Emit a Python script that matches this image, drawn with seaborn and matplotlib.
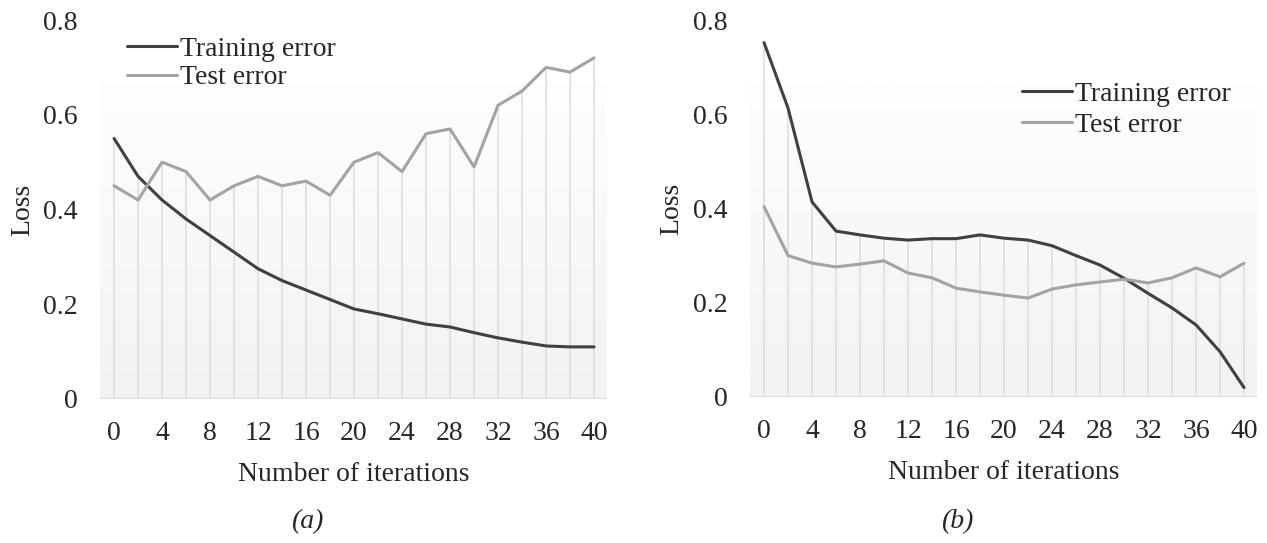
import numpy as np
import pandas as pd
import matplotlib
matplotlib.use("Agg")
import matplotlib.pyplot as plt
from matplotlib import font_manager
import seaborn as sns
from matplotlib.colors import LinearSegmentedColormap

# ---- data ----
iterations = list(range(0, 41, 2))
train_a = [0.55, 0.47, 0.42, 0.38, 0.345, 0.31, 0.275, 0.25, 0.23, 0.21, 0.19,
           0.18, 0.169, 0.158, 0.152, 0.14, 0.129, 0.12, 0.112, 0.11, 0.11]
test_a = [0.45, 0.42, 0.50, 0.48, 0.42, 0.45, 0.47, 0.45, 0.46, 0.43, 0.50,
          0.52, 0.48, 0.56, 0.57, 0.49, 0.62, 0.65, 0.70, 0.69, 0.72]
train_b = [0.752, 0.613, 0.414, 0.352, 0.344, 0.337, 0.333, 0.336, 0.336, 0.344, 0.337,
           0.333, 0.321, 0.30, 0.28, 0.252, 0.22, 0.189, 0.153, 0.096, 0.02]
test_b = [0.404, 0.30, 0.284, 0.276, 0.282, 0.289, 0.263, 0.253, 0.231, 0.223, 0.216,
          0.21, 0.229, 0.238, 0.244, 0.25, 0.242, 0.253, 0.274, 0.255, 0.284]
series_names = ["Training error", "Test error"]
y_ticks = [0, 0.2, 0.4, 0.6, 0.8]
y_ticklabels = ["0", "0.2", "0.4", "0.6", "0.8"]
x_ticks = list(range(0, 41, 4))
panel_labels = ["(a)", "(b)"]

# locate a Times-like serif font
serif_name = None
for f in font_manager.findSystemFonts():
    base = f.split("/")[-1].lower()
    if base.startswith("liberationserif"):
        try:
            font_manager.fontManager.addfont(f)
        except Exception:
            pass
        if "regular" in base:
            serif_name = font_manager.FontProperties(fname=f).get_name()
if serif_name is None:
    serif_name = "DejaVu Serif"

sns.set_style("white")
plt.rcParams["font.family"] = [serif_name, "DejaVu Serif"]

FS = 20
fig = plt.figure(figsize=(12.67, 5.43), dpi=100)
W, H = 1267, 543

def px_axes(left, right, zero_y, top_y):
    return fig.add_axes([left / W, 1 - zero_y / H, (right - left) / W, (zero_y - top_y) / H])

ax_a = px_axes(100, 607, 399, 20)
ax_b = px_axes(750, 1257, 397, 20)

palette = {"Training error": "#404040", "Test error": "#a3a3a3"}
grad_cmap = LinearSegmentedColormap.from_list("g", ["#f2f2f2", "#fefefe"])

configs = [
    (ax_a, train_a, test_a, (0.053, 0.956), 0.1, -0.152, panel_labels[0], 307),
    (ax_b, train_b, test_b, (0.536, 0.838), 0.2, -0.154, panel_labels[1], 957),
]

for ax, tr, te, leg_anchor, lsp, ylx, plabel, plx in configs:
    xmin, xmax = -1.17, 41.08
    ax.set_xlim(xmin, xmax)
    ax.set_ylim(0, 0.8)
    grad = np.linspace(0, 1, 256).reshape(-1, 1)
    ax.imshow(grad, extent=[xmin, xmax, 0, 0.667], origin="lower", aspect="auto",
              cmap=grad_cmap, zorder=0)
    ax.vlines(iterations, 0, np.maximum(tr, te), colors="#dcdcdc", lw=1.1, zorder=1)
    ax.axhline(0, color="#d9d9d9", lw=1.2, zorder=1)
    df = pd.DataFrame({
        "Iteration": iterations * 2,
        "Loss": list(tr) + list(te),
        "Series": [series_names[0]] * len(iterations) + [series_names[1]] * len(iterations),
    })
    sns.lineplot(data=df, x="Iteration", y="Loss", hue="Series", palette=palette,
                 linewidth=2.2, ax=ax, zorder=3, legend=True)
    for s in ax.spines.values():
        s.set_visible(False)
    ax.set_xticks(x_ticks)
    ax.set_xticklabels([str(t) for t in x_ticks], fontsize=FS)
    ax.set_yticks(y_ticks)
    ax.set_yticklabels(y_ticklabels, fontsize=FS)
    ax.tick_params(axis="both", length=0)
    ax.tick_params(axis="y", pad=16)
    ax.tick_params(axis="x", pad=16)
    ax.grid(False)
    ax.set_ylabel("Loss", fontsize=FS)
    ax.yaxis.set_label_coords(ylx, 0.5)
    ax.yaxis.label.set_va("center")
    ax.yaxis.label.set_ha("center")
    ax.set_xlabel("Number of iterations", fontsize=FS)
    ax.xaxis.set_label_coords(0.501, -0.2)
    ax.xaxis.label.set_va("center")
    leg = ax.legend(loc="upper left", bbox_to_anchor=leg_anchor, frameon=False,
                    fontsize=FS, handlelength=1.8, handletextpad=0.1,
                    labelspacing=lsp, borderpad=0, borderaxespad=0)
    for h in leg.get_lines():
        h.set_linewidth(2.2)
    fig.text(plx / W, 1 - 522 / H, plabel, fontsize=FS, style="italic",
             ha="center", va="center")

fig.savefig("out.png", dpi=100)
